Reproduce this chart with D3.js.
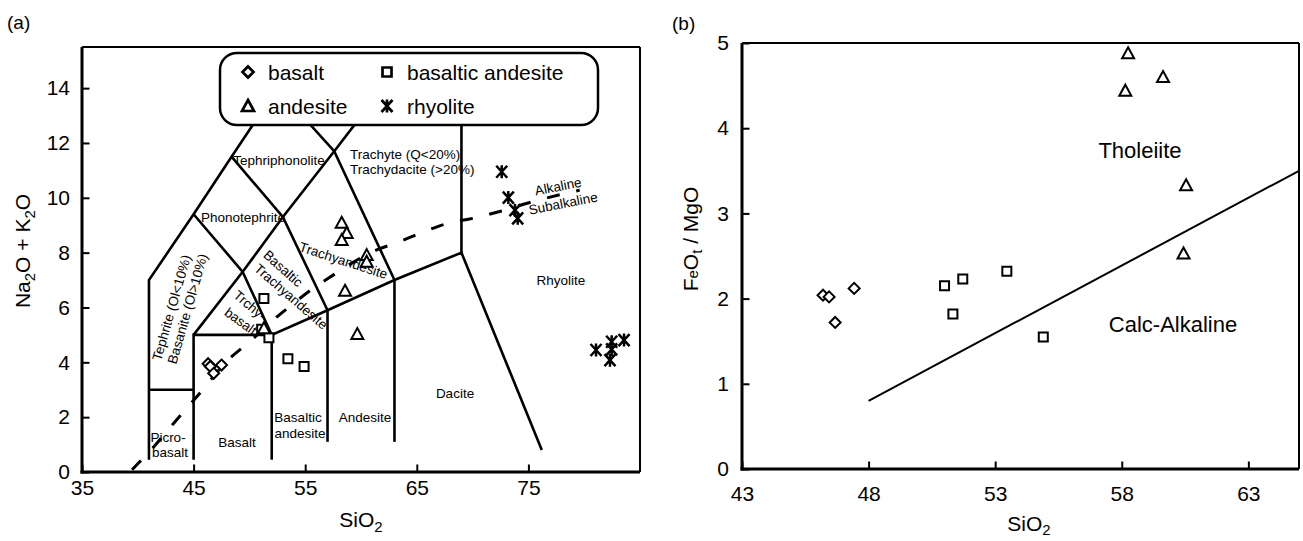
<!DOCTYPE html>
<html><head><meta charset="utf-8">
<script src="https://cdn.jsdelivr.net/npm/d3@7"></script>
<style>
body{margin:0;background:#fff;}
svg{display:block;font-family:"Liberation Sans",Arial,sans-serif;}
</style></head>
<body><svg id="c" width="1303" height="541"></svg>
<script>
// ---------- DATA ----------
// Panel (a): TAS diagram (SiO2 vs Na2O+K2O)
const tasBasalt = [[46.3,3.95],[46.5,3.85],[46.8,3.6],[47.5,3.9]];
const tasBasAnd = [[51.3,6.33],[51.1,5.21],[51.75,4.9],[53.45,4.13],[54.9,3.85]];
const tasAndesite = [[58.27,9.09],[58.72,8.72],[58.27,8.46],[60.51,7.91],[60.51,7.67],[58.57,6.61],[59.67,5.03],[51.3,5.24]];
const tasRhyolite = [[72.61,10.95],[73.2,10.01],[73.8,9.55],[74.04,9.25],[81.06,4.45],[82.46,4.75],[83.57,4.81],[82.46,4.47],[82.31,4.08]];
// TAS field boundaries
const tasLines = [
  [[41,0.45],[41,7],[45,9.4],[48.4,11.5],[52.5,14]],
  [[41,3],[45,3]],
  [[45,0.45],[45,5],[52,5],[57,5.9],[63,7],[69,8],[76.2,0.8]],
  [[52,0.45],[52,5]],
  [[57,1.1],[57,5.9]],
  [[63,1.1],[63,7]],
  [[69,8],[69,15]],
  [[45,5],[49.4,7.3],[53,9.3],[57.6,11.7],[61,13.5]],
  [[45,9.4],[49.4,7.3],[52,5]],
  [[48.4,11.5],[53,9.3],[57,5.9]],
  [[52.5,14],[57.6,11.7],[63,7]]
];
// Alkaline / subalkaline divide
const alkDivide = [[39.3,0],[40,0.3],[41.5,0.95],[43.2,1.77],[45.3,2.75],[48,4.05],[50.3,4.85],[52,5.5],[53.5,6.0],[56,6.78],[57.5,7.18],[59.1,7.6],[61.4,8.1],[63.2,8.36],[66,8.82],[67.8,9.07],[70,9.25],[72.6,9.52],[75.4,9.86],[79.6,10.28]];
const tasXTicks = [35,45,55,65,75];
const tasYTicks = [0,2,4,6,8,10,12,14];

// Panel (b): FeOt/MgO vs SiO2
const fmBasalt = [[46.2,2.04],[46.44,2.02],[46.68,1.72],[47.43,2.12]];
const fmBasAnd = [[51.0,2.15],[51.72,2.23],[51.33,1.82],[53.46,2.32],[54.9,1.55]];
const fmAndesite = [[58.25,4.88],[59.63,4.60],[58.14,4.44],[60.54,3.33],[60.44,2.53]];
const fmDivide = [[48,0.8],[65,3.5]];
const fmXTicks = [43,48,53,58,63];
const fmYTicks = [0,1,2,3,4,5];

const legendItems = ["basalt","basaltic andesite","andesite","rhyolite"];

// ---------- DRAW ----------
const svg = d3.select("#c");
const FONT = '"Liberation Sans",Arial,sans-serif';

const shapes = {
  diamond: "M0,-5.5L5.5,0L0,5.5L-5.5,0Z",
  square: "M-4.5,-4.5H4.5V4.5H-4.5Z",
  triangle: "M0,-6L6,5L-6,5Z",
  star: "M-5.5,-6L5.5,6M5.5,-6L-5.5,6M0,-6.5L0,6.5"
};

function markers(g, data, xs, ys, shape, sw){
  g.append("g").selectAll("path").data(data).join("path")
    .attr("d", shapes[shape])
    .attr("transform", d => `translate(${xs(d[0])},${ys(d[1])})`)
    .attr("fill", shape==="star" ? "none" : "#fff")
    .attr("stroke", "#000").attr("stroke-width", sw || 2);
}

function txt(g, s, x, y, size, rot, anchor){
  return g.append("text").attr("transform", `translate(${x},${y}) rotate(${rot||0})`)
    .attr("text-anchor", anchor||"middle").attr("font-size", size).attr("fill","#000").text(s);
}

function frame(g, xs, ys){
  const [x0,x1] = xs.range(), [y0,y1] = ys.range();
  g.append("line").attr("x1",x0).attr("x2",x1).attr("y1",y1).attr("y2",y1).attr("stroke","#000").attr("stroke-width",2);
  g.append("line").attr("x1",x1).attr("x2",x1).attr("y1",y0).attr("y2",y1).attr("stroke","#000").attr("stroke-width",2);
  g.append("line").attr("x1",x0).attr("x2",x0).attr("y1",y0+1.5).attr("y2",y1).attr("stroke","#000").attr("stroke-width",3);
  g.append("line").attr("x1",x0-1.5).attr("x2",x1).attr("y1",y0).attr("y2",y0).attr("stroke","#000").attr("stroke-width",3);
}

function axes(g, xs, ys, xMajor, xMinorStep, yMajor, yMinorStep, xPad, yPad){
  const [xa,xb] = xs.domain(), [ya,yb] = ys.domain();
  const xMinor = d3.range(xa, xb+1e-6, xMinorStep);
  const yMinor = d3.range(ya, yb+1e-6, yMinorStep);
  const y0 = ys.range()[0], x0 = xs.range()[0];
  const gx = g.append("g").attr("transform",`translate(0,${y0})`);
  gx.call(d3.axisBottom(xs).tickValues(xMinor).tickSizeInner(-5.5).tickSizeOuter(0).tickFormat(""));
  gx.call(d3.axisBottom(xs).tickValues(xMajor).tickSizeInner(-7.5).tickSizeOuter(0).tickPadding(xPad).tickFormat(d3.format("d")));
  const gy = g.append("g").attr("transform",`translate(${x0},0)`);
  gy.call(d3.axisLeft(ys).tickValues(yMinor).tickSizeInner(-5.5).tickSizeOuter(0).tickFormat(""));
  gy.call(d3.axisLeft(ys).tickValues(yMajor).tickSizeInner(-7.5).tickSizeOuter(0).tickPadding(yPad).tickFormat(d3.format("d")));
  g.selectAll(".domain").remove();
  g.selectAll(".tick line").attr("stroke","#000").attr("stroke-width",2);
  g.selectAll(".tick text").attr("font-size",21).attr("font-family",FONT).attr("fill","#000");
}

// ===== Panel (a) =====
const xa = d3.scaleLinear([35,85],[82,640]);
const ya = d3.scaleLinear([0,15.5],[472,47]);
const ga = svg.append("g");

const lineA = d3.line().x(d=>xa(d[0])).y(d=>ya(d[1]));
ga.append("g").selectAll("path").data(tasLines).join("path")
  .attr("d", lineA).attr("fill","none").attr("stroke","#000").attr("stroke-width",2.6).attr("stroke-linejoin","miter");
ga.append("path").datum(alkDivide).attr("d", d3.line().x(d=>xa(d[0])).y(d=>ya(d[1])).curve(d3.curveMonotoneX))
  .attr("fill","none").attr("stroke","#000").attr("stroke-width",3).attr("stroke-dasharray","13,17").attr("stroke-dashoffset",-3);

// field labels
const fl = ga.append("g").attr("font-family",FONT);
txt(fl,"Tephriphonolite",279,165,13.5);
txt(fl,"Phonotephrite",243,222,13.5);
txt(fl,"Trachyte (Q<20%)",350,159,13.5,0,"start");
txt(fl,"Trachydacite (>20%)",350,174,13.5,0,"start");
txt(fl,"Alkaline",559,191,13.5,-11);
txt(fl,"Subalkaline",564,208,13.5,-11);
txt(fl,"Rhyolite",561,285,13.5);
txt(fl,"Dacite",455,398,13.5);
txt(fl,"Andesite",365,422,13.5);
txt(fl,"Basaltic",298,422,13.5);
txt(fl,"andesite",300,438,13.5);
txt(fl,"Basalt",237,447,13.5);
txt(fl,"Picro-",168,442,13.5);
txt(fl,"basalt",170,457,13.5);
txt(fl,"Tephrite (Ol<10%)",176,309,13.5,-74);
txt(fl,"Basanite (Ol>10%)",192,310,13.5,-74);
txt(fl,"Trchy-",247,309,13.5,40);
txt(fl,"basalt",238,325,13.5,36);
txt(fl,"Basaltic",280,272,13.5,42);
txt(fl,"Trachyandesite",288,300,13.5,41);
txt(fl,"Trachyandesite",342,265,13.5,18);

// data (a)
markers(ga, tasBasalt, xa, ya, "diamond");
markers(ga, tasBasAnd, xa, ya, "square");
markers(ga, tasAndesite, xa, ya, "triangle");
markers(ga, tasRhyolite, xa, ya, "star", 2.5);

// legend
const lg = ga.append("g");
lg.append("rect").attr("x",220).attr("y",53).attr("width",378).attr("height",72).attr("rx",17)
  .attr("fill","#fff").attr("stroke","#000").attr("stroke-width",2.5);
const legPos = [[248,72,"diamond"],[387,72,"square"],[248,106,"triangle"],[387,106,"star"]];
legendItems.forEach((name,i)=>{
  const [lx,ly,sh] = legPos[i];
  lg.append("path").attr("d",shapes[sh]).attr("transform",`translate(${lx},${ly})`)
    .attr("fill", sh==="star"?"none":"#fff").attr("stroke","#000").attr("stroke-width",2.7);
  lg.append("text").attr("x",lx+20).attr("y",ly+7.5).attr("font-size",21).attr("font-family",FONT).text(name);
});

frame(ga, xa, ya);
axes(ga, xa, ya, tasXTicks, 2, tasYTicks, 1, 8, 12);

// titles (a)
const ta = ga.append("g").attr("font-family",FONT).attr("font-size",21);
ta.append("text").attr("x",7).attr("y",29).attr("font-size",19).text("(a)");
const sx = ta.append("text").attr("x",361).attr("y",527).attr("text-anchor","middle");
sx.append("tspan").text("SiO");
sx.append("tspan").attr("font-size",15).attr("dy",5).text("2");
const yt = ta.append("text").attr("transform","translate(30,251) rotate(-90)").attr("text-anchor","middle");
yt.append("tspan").text("Na");
yt.append("tspan").attr("font-size",15).attr("dy",5).text("2");
yt.append("tspan").attr("dy",-5).text("O + K");
yt.append("tspan").attr("font-size",15).attr("dy",5).text("2");
yt.append("tspan").attr("dy",-5).text("O");

// ===== Panel (b) =====
const xb = d3.scaleLinear([43,65],[742,1299]);
const yb = d3.scaleLinear([0,5],[469,43]);
const gb = svg.append("g");

gb.append("path").datum(fmDivide).attr("d", d3.line().x(d=>xb(d[0])).y(d=>yb(d[1])))
  .attr("fill","none").attr("stroke","#000").attr("stroke-width",2);

markers(gb, fmBasalt, xb, yb, "diamond");
markers(gb, fmBasAnd, xb, yb, "square");
markers(gb, fmAndesite, xb, yb, "triangle");

const tb = gb.append("g").attr("font-family",FONT);
txt(tb,"Tholeiite",1140,158,22);
txt(tb,"Calc-Alkaline",1173,332,22);

frame(gb, xb, yb);
axes(gb, xb, yb, fmXTicks, 1, fmYTicks, 0.5, 17, 13);

const tt = gb.append("g").attr("font-family",FONT).attr("font-size",21);
tt.append("text").attr("x",672).attr("y",30).attr("font-size",19).text("(b)");
const sx2 = tt.append("text").attr("x",1029).attr("y",531).attr("text-anchor","middle");
sx2.append("tspan").text("SiO");
sx2.append("tspan").attr("font-size",15).attr("dy",4).text("2");
const yt2 = tt.append("text").attr("transform","translate(698,239) rotate(-90)").attr("text-anchor","middle");
yt2.append("tspan").text("F");
yt2.append("tspan").attr("font-size",15).attr("dy",0).text("e");
yt2.append("tspan").text("O");
yt2.append("tspan").attr("font-size",15).attr("dy",4).text("t");
yt2.append("tspan").attr("dy",-4).text(" / MgO");
</script>
</body></html>
